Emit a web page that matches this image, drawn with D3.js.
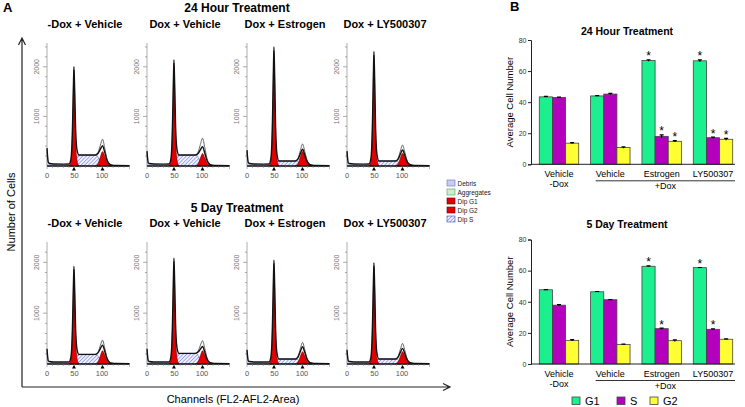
<!DOCTYPE html>
<html>
<head>
<meta charset="utf-8">
<script src="https://cdn.jsdelivr.net/npm/d3@7"></script>
<style>
body { margin: 0; background: #fff; }
text { font-family: Arial, "Liberation Sans", sans-serif; }
</style>
</head>
<body>
<script>
var W = 745, H = 407;

// ---------- panel A data (flow histograms) ----------
var rowTitles = ["24 Hour Treatment", "5 Day Treatment"];
var sampleLabels = ["-Dox + Vehicle", "Dox + Vehicle", "Dox + Estrogen", "Dox + LY500307"];
var histTicksX = [0, 50, 100];
var histTicksY = [1000, 2000];
var g1Peak = [[2000, 2140, 2400, 2310], [1920, 2080, 2040, 1990]];
var sLevel = [[222, 222, 100, 100], [190, 210, 98, 98]];
var g2Red = [[290, 250, 290, 256], [261, 261, 241, 241]];
var g2Fit = [[410, 390, 337, 323], [372, 345, 340, 307]];
var g2Data = [[540, 560, 444, 424], [470, 460, 425, 405]];
var debrisTop = [[360, 300, 320, 300], [300, 300, 280, 280]];
// peak profiles, [channel, fraction of peak height]
var g1Shape = [[40, 0], [43.5, 0.05], [46, 0.3], [47.8, 0.74], [49, 1], [50.3, 0.74], [52, 0.3], [54.5, 0.06], [58, 0]];
var g2Shape = [[88, 0], [93, 0.18], [97, 0.62], [101, 1], [105, 0.66], [109, 0.26], [113.5, 0.06], [119, 0]];
var legendItems = ["Debris", "Aggregates", "Dip G1", "Dip G2", "Dip S"];

// ---------- panel B data (bar charts) ----------
var groups = ["Vehicle", "Vehicle", "Estrogen", "LY500307"];
var phases = ["G1", "S", "G2"];
var g1_24h = [43.4, 44.0, 66.8, 66.6];
var s_24h = [43.0, 45.2, 18.0, 17.1];
var g2_24h = [13.6, 10.8, 14.8, 16.1];
var g1Err_24h = [0.3, 0.2, 0.5, 0.6];
var sErr_24h = [0.2, 0.4, 1.0, 0.4];
var g2Err_24h = [0.3, 0.4, 0.4, 0.6];
var g1_5d = [47.7, 46.4, 62.8, 61.9];
var s_5d = [37.8, 41.3, 22.7, 22.3];
var g2_5d = [15.2, 12.6, 15.0, 15.9];
var g1Err_5d = [0.1, 0.2, 0.3, 0.1];
var sErr_5d = [0.4, 0.1, 0.4, 0.3];
var g2Err_5d = [0.4, 0.2, 0.5, 0.3];
var stars_24h = [[0, 0, 0], [0, 0, 0], [1, 1, 1], [1, 1, 1]];
var stars_5d = [[0, 0, 0], [0, 0, 0], [1, 1, 0], [1, 1, 0]];
var yTicksB = [0, 20, 40, 60, 80];

var phaseColor = d3.scaleOrdinal().domain(phases).range(["#1cef8e", "#b200bc", "#ffff33"]);

var svg = d3.select("body").append("svg").attr("width", W).attr("height", H);

var defs = svg.append("defs");
var hatch = defs.append("pattern").attr("id", "hatch")
    .attr("patternUnits", "userSpaceOnUse").attr("width", 2.6).attr("height", 2.6)
    .attr("patternTransform", "rotate(45)");
hatch.append("rect").attr("width", 2.6).attr("height", 2.6).attr("fill", "#f4f4ff");
hatch.append("line").attr("x1", 0).attr("y1", 0).attr("x2", 0).attr("y2", 2.6)
    .attr("stroke", "#3a4cc8").attr("stroke-width", 0.9);

// ================= PANEL A =================
svg.append("text").attr("x", 3).attr("y", 12).attr("font-size", 13).attr("font-weight", "bold").text("A");

var rows = [
  {base: 166, top: 43, max: 2480, titleY: 12, subY: 28},
  {base: 364, top: 242, max: 2400, titleY: 212, subY: 227}
];

function blend(shape, peak, lb, rb, center) {
  return shape.map(function(d) {
    var b = d[0] <= center ? lb : rb;
    return [d[0], d[1] * peak + b * (1 - d[1])];
  });
}

rows.forEach(function(row, r) {
  svg.append("text").attr("x", 237).attr("y", row.titleY).attr("text-anchor", "middle")
      .attr("font-size", 12).attr("font-weight", "bold").text(rowTitles[r]);

  sampleLabels.forEach(function(lab, i) {
    var x0 = 47 + 100 * i;
    svg.append("text").attr("x", x0 + 38).attr("y", row.subY).attr("text-anchor", "middle")
        .attr("font-size", 11).attr("font-weight", "bold").text(lab);

    var g = svg.append("g").attr("transform", "translate(" + x0 + ",0)");
    var x = d3.scaleLinear().domain([0, 150]).range([0, 82.5]);
    var y = d3.scaleLinear().domain([0, row.max]).range([row.base, row.top]);

    var area = d3.area().x(function(d) { return x(d[0]); }).y0(y(0))
        .y1(function(d) { return y(d[1]); }).curve(d3.curveMonotoneX);
    var line = d3.line().x(function(d) { return x(d[0]); })
        .y(function(d) { return y(d[1]); }).curve(d3.curveMonotoneX);

    var s = sLevel[r][i], deb = debrisTop[r][i];

    // y axis with minor ticks
    g.append("line").attr("x1", 0).attr("x2", 0).attr("y1", row.base).attr("y2", row.top)
        .attr("stroke", "#999").attr("stroke-width", 0.8);
    g.selectAll(".ytk").data(d3.range(200, row.max, 200)).enter().append("line")
        .attr("x1", function(d) { return d % 1000 === 0 ? -4 : -2; }).attr("x2", 0)
        .attr("y1", function(d) { return y(d); }).attr("y2", function(d) { return y(d); })
        .attr("stroke", "#888").attr("stroke-width", 0.7);
    g.selectAll(".ylab").data(histTicksY).enter().append("text")
        .attr("transform", function(d) { return "translate(-8," + y(d) + ") rotate(-90)"; })
        .attr("text-anchor", "middle").attr("font-size", 7).attr("fill", "#777").text(function(d) { return d; });

    // debris
    g.append("path").attr("d", area([[0, deb * 0.9], [1, deb * 0.5], [2.5, deb * 0.18], [5, 38], [12, 30], [30, 28], [42, 20], [48, 0]]))
        .attr("fill", "#c9cdee").attr("stroke", "#8890cc").attr("stroke-width", 0.4);
    // S phase hatch
    g.append("path").attr("d", d3.area().x(function(d) { return x(d[0]); }).y0(y(0))
        .y1(function(d) { return y(d[1]); })([[50, 0], [54, s * 0.9], [59, s * 0.97], [91, s * 0.97], [95, s * 0.6], [98, 0]]))
        .attr("fill", "url(#hatch)").attr("stroke", "#3a4cc8").attr("stroke-width", 0.5);
    // G1 and G2 peaks
    g.append("path").attr("d", area(blend(g1Shape, g1Peak[r][i] * 0.97, 0, 0, 49)))
        .attr("fill", "#e50000").attr("stroke", "#600").attr("stroke-width", 0.6);
    g.append("path").attr("d", area(blend(g2Shape, g2Red[r][i], 0, 0, 101)))
        .attr("fill", "#e50000").attr("stroke", "#600").attr("stroke-width", 0.6);
    // data trace around G2
    g.append("path").attr("d", line(blend(g2Shape, g2Data[r][i], s, 14, 101)))
        .attr("fill", "none").attr("stroke", "#555").attr("stroke-width", 0.9);
    // model fit outline
    var fit = [[0, deb], [1, deb * 0.55], [2.5, deb * 0.2], [5, 50], [12, 40], [30, 38]]
        .concat(blend(g1Shape, g1Peak[r][i], 40, s, 49))
        .concat([[61, s], [84, s]])
        .concat(blend(g2Shape, g2Fit[r][i], s, 14, 101))
        .concat([[126, 10], [150, 8]]);
    g.append("path").attr("d", line(fit)).attr("fill", "none").attr("stroke", "#111").attr("stroke-width", 1.4);

    // x axis
    g.append("line").attr("x1", 0).attr("x2", x(150)).attr("y1", row.base).attr("y2", row.base)
        .attr("stroke", "#111").attr("stroke-width", 1.5);
    g.selectAll(".xtk").data(d3.range(0, 151, 10)).enter().append("line")
        .attr("x1", function(d) { return x(d); }).attr("x2", function(d) { return x(d); })
        .attr("y1", row.base).attr("y2", function(d) { return row.base + (d % 50 === 0 ? 3 : 2); })
        .attr("stroke", "#888").attr("stroke-width", 0.6);
    g.selectAll(".tri").data([49, 101]).enter().append("path")
        .attr("d", function(d) { var c = x(d); return "M" + (c - 2) + "," + (row.base + 4.5) + "L" + c + "," + (row.base + 1) + "L" + (c + 2) + "," + (row.base + 4.5) + "Z"; })
        .attr("fill", "#000");
    g.selectAll(".xlab").data(histTicksX).enter().append("text")
        .attr("x", function(d) { return x(d); }).attr("y", row.base + 12)
        .attr("text-anchor", "middle").attr("font-size", 7.5).attr("fill", "#555").text(function(d) { return d; });
  });
});

// frame arrows
svg.append("path").attr("d", "M22,387V38M18.5,45L22,38L25.5,45M22,387H450M443,383.5L450,387L443,390.5")
    .attr("fill", "none").attr("stroke", "#222").attr("stroke-width", 1.2);
svg.append("text").attr("transform", "translate(15,212) rotate(-90)").attr("text-anchor", "middle")
    .attr("font-size", 11).text("Number of Cells");
svg.append("text").attr("x", 233).attr("y", 403).attr("text-anchor", "middle")
    .attr("font-size", 11).text("Channels (FL2-AFL2-Area)");

// legend for histograms
var legFill = ["#c9cdee", "#cdeecd", "#e50000", "#e50000", "url(#hatch)"];
var legStroke = ["#6670c0", "#5a9a5a", "#600", "#600", "#3a4cc8"];
var leg = svg.append("g").attr("transform", "translate(447,180)");
legendItems.forEach(function(t, k) {
  leg.append("rect").attr("x", 0).attr("y", k * 9).attr("width", 8).attr("height", 6)
      .attr("fill", legFill[k]).attr("stroke", legStroke[k]).attr("stroke-width", 0.6);
  leg.append("text").attr("x", 10.5).attr("y", k * 9 + 6).attr("font-size", 6.5).attr("fill", "#222").text(t);
});

// ================= PANEL B =================
svg.append("text").attr("x", 510).attr("y", 11).attr("font-size", 13).attr("font-weight", "bold").text("B");

var x0 = d3.scaleBand().domain(d3.range(groups.length)).range([531.6, 740.4]).paddingInner(0.232).paddingOuter(0.15);
var x1 = d3.scaleBand().domain(phases).range([0, x0.bandwidth()]);

function barChart(cfg) {
  var y = d3.scaleLinear().domain([0, 80]).range([cfg.base, cfg.top]);
  var g = svg.append("g");

  g.append("text").attr("x", 627).attr("y", cfg.titleY).attr("text-anchor", "middle")
      .attr("font-size", 10.5).attr("font-weight", "bold").text(cfg.title);

  var ax = g.append("g").attr("transform", "translate(531,0)")
      .call(d3.axisLeft(y).tickValues(yTicksB).tickSize(3).tickPadding(1.5));
  ax.select(".domain").attr("stroke", "#222");
  ax.selectAll(".tick line").attr("stroke", "#222");
  ax.selectAll("text").attr("font-size", 7).attr("fill", "#333").attr("font-family", "Arial, 'Liberation Sans', sans-serif");

  g.append("text").attr("transform", "translate(513," + ((cfg.base + cfg.top) / 2) + ") rotate(-90)")
      .attr("text-anchor", "middle").attr("font-size", 9.5).text("Average Cell Number");

  var data = [];
  groups.forEach(function(grp, i) {
    phases.forEach(function(p, j) {
      data.push({gi: i, phase: p, v: cfg.vals[j][i], e: cfg.errs[j][i], star: cfg.stars[i][j]});
    });
  });

  var bw = x1.bandwidth();
  g.selectAll(".bar").data(data).enter().append("rect")
      .attr("x", function(d) { return x0(d.gi) + x1(d.phase); })
      .attr("y", function(d) { return y(d.v); })
      .attr("width", bw)
      .attr("height", function(d) { return cfg.base - y(d.v); })
      .attr("fill", function(d) { return phaseColor(d.phase); })
      .attr("stroke", "#444").attr("stroke-width", 0.8);

  g.selectAll(".err").data(data).enter().append("path")
      .attr("d", function(d) {
        var c = x0(d.gi) + x1(d.phase) + bw / 2, t = y(d.v + d.e), b = y(d.v - d.e);
        return "M" + c + "," + t + "V" + b + "M" + (c - 2) + "," + t + "H" + (c + 2);
      })
      .attr("stroke", "#000").attr("stroke-width", 1.2).attr("fill", "none");

  g.selectAll(".star").data(data.filter(function(d) { return d.star; })).enter().append("text")
      .attr("x", function(d) { return x0(d.gi) + x1(d.phase) + bw / 2; })
      .attr("y", function(d) { return y(d.v + d.e) + 0.5; })
      .attr("text-anchor", "middle").attr("font-size", 12).text("*");

  g.append("line").attr("x1", 531).attr("x2", 735).attr("y1", cfg.base).attr("y2", cfg.base)
      .attr("stroke", "#222").attr("stroke-width", 1);

  groups.forEach(function(grp, i) {
    g.append("text").attr("x", x0(i) + x0.bandwidth() / 2).attr("y", cfg.base + 12.5)
        .attr("text-anchor", "middle").attr("font-size", 9).text(grp);
  });
  g.append("text").attr("x", x0(0) + x0.bandwidth() / 2).attr("y", cfg.base + 22.5)
      .attr("text-anchor", "middle").attr("font-size", 9).text("-Dox");
  g.append("line").attr("x1", x0(1) + 5).attr("x2", 735).attr("y1", cfg.base + 16.5).attr("y2", cfg.base + 16.5)
      .attr("stroke", "#333").attr("stroke-width", 1);
  g.append("text").attr("x", (x0(1) + 5 + 735) / 2).attr("y", cfg.base + 25)
      .attr("text-anchor", "middle").attr("font-size", 9).text("+Dox");
}

barChart({title: "24 Hour Treatment", titleY: 35, base: 164.3, top: 40,
  vals: [g1_24h, s_24h, g2_24h], errs: [g1Err_24h, sErr_24h, g2Err_24h], stars: stars_24h});
barChart({title: "5 Day Treatment", titleY: 228, base: 364, top: 239.5,
  vals: [g1_5d, s_5d, g2_5d], errs: [g1Err_5d, sErr_5d, g2Err_5d], stars: stars_5d});

// phase legend
var pl = svg.append("g").attr("transform", "translate(0,397)");
var legX = [572, 617, 650];
phases.forEach(function(p, k) {
  pl.append("rect").attr("x", legX[k]).attr("y", 0).attr("width", 8).attr("height", 7.5)
      .attr("fill", phaseColor(p)).attr("stroke", "#444").attr("stroke-width", 0.8);
  pl.append("text").attr("x", legX[k] + 13).attr("y", 7.5).attr("font-size", 11).text(p);
});
</script>
</body>
</html>
